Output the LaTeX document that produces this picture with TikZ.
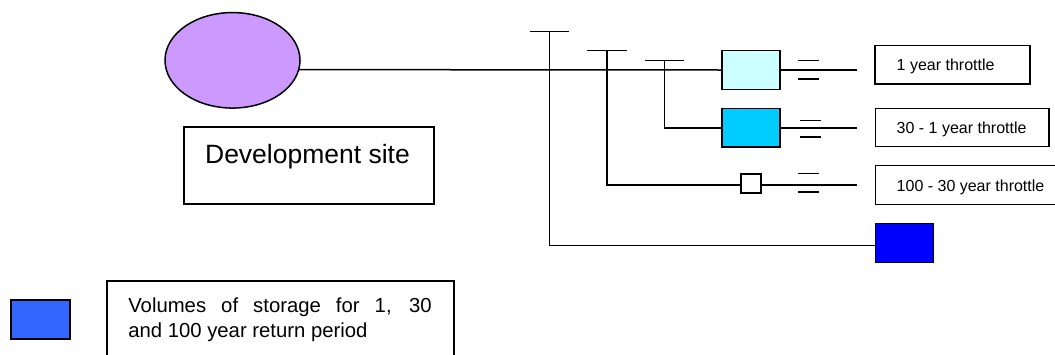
\documentclass[tikz,border=0pt]{standalone}
\usepackage{fontspec}
\setmainfont{Liberation Sans}
\usetikzlibrary{shapes.geometric}
\definecolor{sitefill}{RGB}{204,153,255}
\definecolor{vonefill}{RGB}{204,255,255}
\definecolor{vthirtyfill}{RGB}{0,204,255}
\definecolor{vhundredfill}{RGB}{0,0,255}
\definecolor{legendfill}{RGB}{51,102,255}
\tikzset{
  wire/.style={draw=black,line width=1.5pt},
  boxed/.style={draw=black,line width=1.5pt,rectangle,inner sep=0pt,outer sep=0pt},
  label/.style={boxed,fill=white},
  txt/.style={inner sep=0pt,outer sep=0pt,text=black},
  small/.style={txt,anchor=base west,font=\fontsize{16}{19}\selectfont}
}
\begin{document}
\begin{tikzpicture}[x=1pt,y=-1pt]
\useasboundingbox (0,0) rectangle (1055,354);
\clip (0,0) rectangle (1055,354);
% source
\node[ellipse,draw=black,line width=1.5pt,fill=sitefill,minimum width=135pt,minimum height=95.5pt,inner sep=0pt,outer sep=0pt] (site) at (232.5,60.3) {};
\node[label,minimum width=250pt,minimum height=77pt] (sitebox) at (309,165.5) {};
\node[txt,anchor=base,font=\fontsize{26.5}{30}\selectfont] (sitetxt) at (307.5,163) {Development site};
% storage boxes
\node[boxed,fill=vonefill,minimum width=58pt,minimum height=38.6pt] (v1) at (751,70) {};
\node[boxed,fill=vthirtyfill,minimum width=58pt,minimum height=38.4pt] (v30) at (751,127.8) {};
\node[boxed,fill=white,minimum width=20pt,minimum height=19.3pt] (v100) at (751,183.5) {};
\node[boxed,fill=vhundredfill,minimum width=58pt,minimum height=39pt] (vx) at (904.7,243.2) {};
% labels
\node[label,minimum width=155pt,minimum height=38.3pt] (t1) at (952.5,64.8) {};
\node[small] (t1txt) at (896.7,70.7) {1 year throttle};
\node[label,minimum width=173.5pt,minimum height=38.4pt] (t2) at (962.2,127.5) {};
\node[small] (t2txt) at (896.7,133.3) {30 - 1 year throttle};
\node[label,minimum width=182pt,minimum height=38.6pt] (t3) at (966.7,185) {};
\node[small] (t3txt) at (896.7,191) {100 - 30 year throttle};
% legend
\node[boxed,fill=legendfill,minimum width=59pt,minimum height=39pt] (lg) at (40.5,319.5) {};
\node[label,minimum width=347pt,minimum height=100pt] (lgbox) at (280.5,331) {};
\node[txt,anchor=base west,align=left,font=\fontsize{20.3}{25}\selectfont] (lgtxt) at (128.3,337) {\makebox[303.4pt][s]{Volumes of storage for 1, 30}\\and 100 year return period};
% coordinates
\coordinate (j1t) at (549.3,31.7);
\coordinate (j1b) at (549.3,245.3);
\coordinate (j2t) at (607,50.7);
\coordinate (j2b) at (607,184.8);
\coordinate (j3t) at (664.3,60.7);
\coordinate (j3b) at (664.3,127.8);
\coordinate (e1) at (857.3,70);
\coordinate (e2) at (857.3,127.8);
\coordinate (e3) at (857.3,184.8);
% wires
\draw[wire] (site.-8.2) -- (v1.west);
\draw[wire] (v1.east) -- (e1);
\draw[wire] (v30.east) -- (e2);
\draw[wire] (j3t) -- (j3b) -- (v30.west);
\draw[wire] (j2t) -- (j2b) -- (v100.west |- j2b);
\draw[wire] (v100.east |- e3) -- (e3);
\draw[wire] (j1t) -- (j1b) -- (vx.west |- j1b);
% T bars
\draw[wire] (529.8,31.7) -- (569.3,31.7);
\draw[wire] (587.3,50.7) -- (626.8,50.7);
\draw[wire] (644.8,60.7) -- (684.3,60.7);
% throttles
\draw[wire] (798.3,60.7) -- (819,60.7);
\draw[wire] (798.3,79) -- (819,79);
\draw[wire] (800.3,120.7) -- (821,120.7);
\draw[wire] (800.3,137) -- (821,137);
\draw[wire] (798.3,173.7) -- (819,173.7);
\draw[wire] (798.3,192) -- (819,192);
\end{tikzpicture}
\end{document}
